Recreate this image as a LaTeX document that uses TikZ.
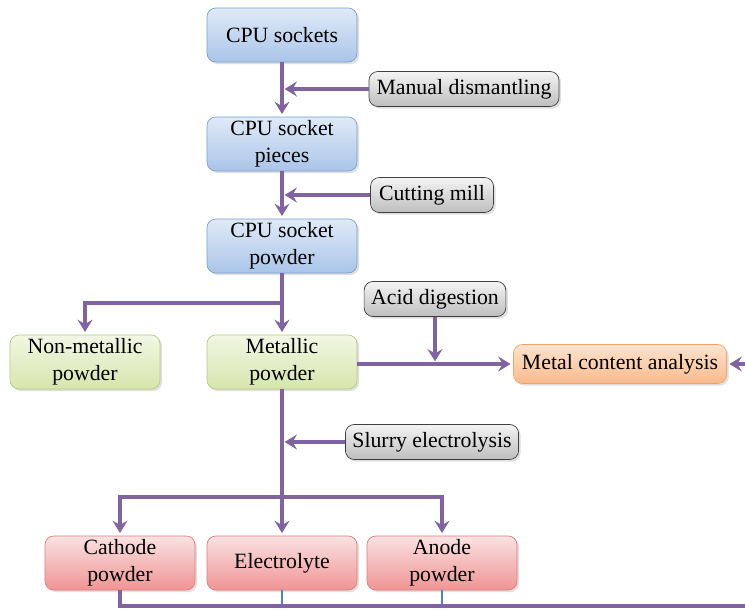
\documentclass[tikz,border=0pt]{standalone}
\usepackage{fontspec}
\setmainfont{Liberation Serif}
\newfontfamily\boxfont{Liberation Serif}
\usepackage{tikz}
\usetikzlibrary{arrows.meta,positioning,calc,shadows}
\usepackage{xcolor}

\definecolor{flowpurple}{RGB}{128,100,162}
\definecolor{linkblue}{RGB}{79,129,189}
\definecolor{bluetop}{RGB}{224,234,247}
\definecolor{bluebot}{RGB}{170,197,233}
\definecolor{blueline}{RGB}{124,158,206}
\definecolor{greentop}{RGB}{242,247,228}
\definecolor{greenbot}{RGB}{214,230,172}
\definecolor{greenline}{RGB}{178,204,128}
\definecolor{orangetop}{RGB}{253,228,207}
\definecolor{orangebot}{RGB}{249,186,140}
\definecolor{orangeline}{RGB}{240,164,108}
\definecolor{redtop}{RGB}{250,226,226}
\definecolor{redbot}{RGB}{240,148,148}
\definecolor{redline}{RGB}{224,124,124}
\definecolor{graytop}{RGB}{244,244,244}
\definecolor{graybot}{RGB}{190,190,190}

\tikzset{
  box/.style={rounded corners=5pt, align=center, inner sep=1pt,
    font=\boxfont\fontsize{12.4}{15.2}\selectfont,
    drop shadow={opacity=0.25, shadow xshift=1.2pt, shadow yshift=-1.2pt}},
  stage/.style={box, minimum width=3cm, minimum height=1.08cm},
  bluebox/.style={stage, draw=blueline, top color=bluetop, bottom color=bluebot},
  greenbox/.style={stage, draw=greenline, top color=greentop, bottom color=greenbot},
  redbox/.style={stage, draw=redline, top color=redtop, bottom color=redbot},
  orangebox/.style={box, draw=orangeline, top color=orangetop, bottom color=orangebot,
    minimum width=4.26cm, minimum height=0.78cm},
  graybox/.style={box, draw=black!75, top color=graytop, bottom color=graybot,
    minimum height=0.7cm, inner xsep=4pt},
  flow/.style={draw=flowpurple, line width=2pt, shorten >=1.5pt,
    -{Stealth[length=7pt,width=8.5pt,inset=2.5pt]}},
  plainflow/.style={draw=flowpurple, line width=2pt},
  thinlink/.style={draw=linkblue, line width=0.8pt}
}

\begin{document}
\begin{tikzpicture}[x=0.02cm,y=-0.02cm]
  \useasboundingbox (0,0) rectangle (745,613);
  % main chain
  \node[bluebox] (sockets) at (282,35) {CPU sockets};
  \node[bluebox] (pieces) at (282,144) {CPU socket\\pieces};
  \node[bluebox] (powder) at (282,246) {CPU socket\\powder};
  \node[greenbox] (nonmetal) at (85,362) {Non-metallic\\powder};
  \node[greenbox] (metal) at (282,362) {Metallic\\powder};
  \node[orangebox] (analysis) at (620,364) {Metal content analysis};
  \node[redbox] (cathode) at (120,563) {Cathode\\powder};
  \node[redbox] (electro) at (282,563) {Electrolyte};
  \node[redbox] (anode) at (442,563) {Anode\\powder};
  % process steps
  \node[graybox, minimum width=3.8cm] (manual) at (464,89) {Manual dismantling};
  \node[graybox, minimum width=2.46cm] (mill) at (432,195) {Cutting mill};
  \node[graybox, minimum width=2.76cm] (acid) at (435,299) {Acid digestion};
  \node[graybox, minimum width=3.36cm] (slurry) at (432,442) {Slurry electrolysis};
  \coordinate (split1) at (282,303);
  \coordinate (split2) at (282,497);
  \coordinate (bend) at (745,606);
  \coordinate (feed) at (745,364);

  \draw[flow] (sockets) -- (pieces);
  \draw[flow] (manual) -- (manual -| sockets);
  \draw[flow] (pieces) -- (powder);
  \draw[flow] (mill) -- (mill -| pieces);
  \draw[flow] (powder) -- (metal);
  \draw[flow] (split1) -| (nonmetal);
  \draw[flow] (metal.east |- analysis) -- (analysis);
  \draw[flow] (acid) -- (acid |- analysis);
  \draw[flow] (metal) -- (electro);
  \draw[flow] (slurry) -- (slurry -| metal);
  \draw[flow] (split2) -| (cathode);
  \draw[flow] (split2) -| (anode);
  \draw[thinlink] (electro) -- (electro |- bend);
  \draw[thinlink] (anode) -- (anode |- bend);
  \draw[plainflow] (cathode) |- (bend);
  \draw[flow] (feed) -- (analysis);
\end{tikzpicture}
\end{document}
